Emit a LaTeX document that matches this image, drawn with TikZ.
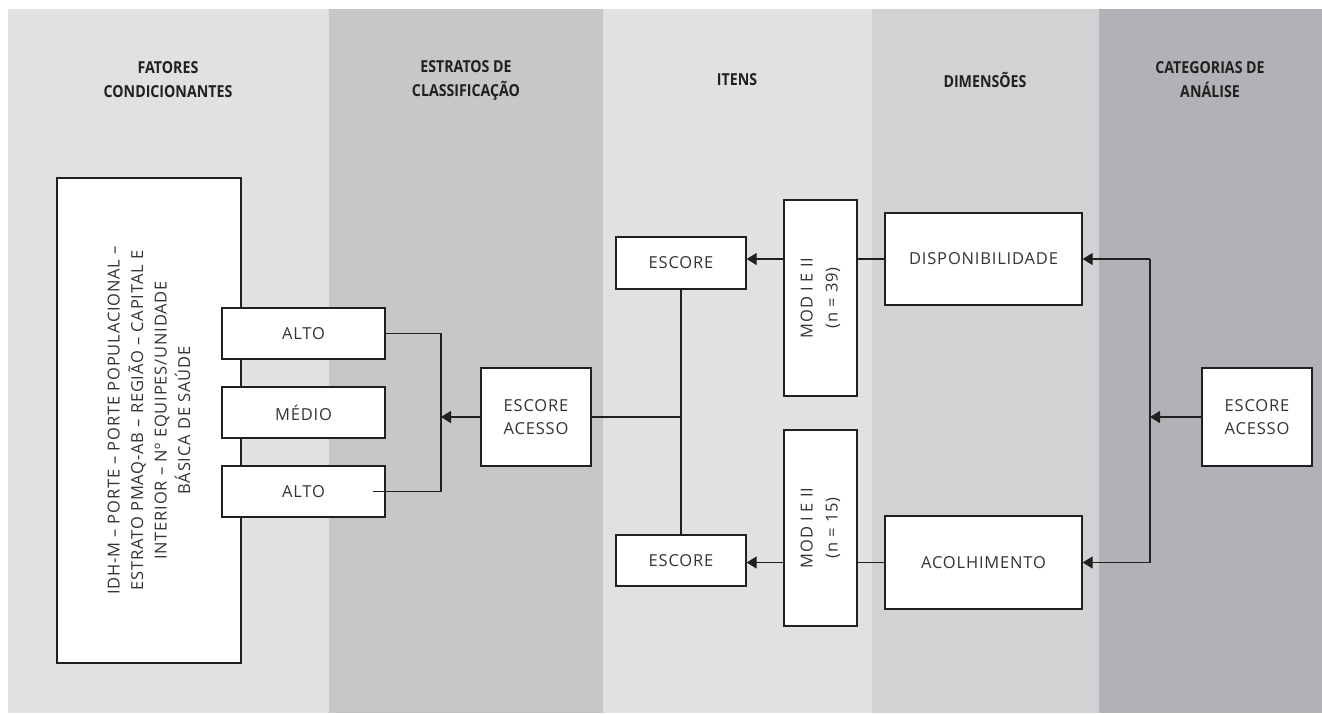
\documentclass[tikz,border=0pt]{standalone}
\usepackage{fontspec}
\setmainfont{Open Sans}[LetterSpace=5]
\newfontfamily\headfont{Open Sans}[FakeStretch=0.86]
\usetikzlibrary{arrows.meta}

\definecolor{bandA}{HTML}{E0E1E3}
\definecolor{bandB}{HTML}{C6C7C9}
\definecolor{bandD}{HTML}{D1D2D4}
\definecolor{bandE}{HTML}{B1B2B5}
\definecolor{ink}{HTML}{231F20}
\definecolor{txt}{HTML}{333335}

\begin{document}
\begin{tikzpicture}[x=1pt,y=-1pt,
    box/.style={draw=ink, fill=white, line width=1.3pt, text=txt, inner sep=0pt,
      align=center, font=\fontsize{16.5}{23.5}\selectfont},
    head/.style={text=ink, align=center, font=\headfont\bfseries\fontsize{16.5}{24}\selectfont},
    link/.style={draw=ink, line width=1.2pt},
    arr/.style={link, -{Triangle[length=10pt,width=12pt]}}]
        \useasboundingbox (0,0) rectangle (1322,713);
        % columns
        \fill[bandA] (8,9) rectangle (329,713);
        \fill[bandB] (329,9) rectangle (603,713);
        \fill[bandA] (603,9) rectangle (872,713);
        \fill[bandD] (872,9) rectangle (1099,713);
        \fill[bandE] (1099,9) rectangle (1322,713);
        \node[head] (hfat) at (168,80) {FATORES\\CONDICIONANTES};
        \node[head] (hest) at (466,80) {ESTRATOS DE\\CLASSIFICAÇÃO};
        \node[head] (hite) at (737,80) {ITENS};
        \node[head] (hdim) at (985,80) {DIMENSÕES};
        \node[head] (hcat) at (1210,80) {CATEGORIAS DE\\ANÁLISE};
        % boxes
        \node[box, rotate=90, minimum width=485, minimum height=184] (fatores) at (149,420.5)
            {IDH-M – PORTE – PORTE POPULACIONAL –\\ESTRATO PMAQ-AB – REGIÃO – CAPITAL E\\INTERIOR – Nº EQUIPES/UNIDADE\\BÁSICA DE SAÚDE};
        \node[box, minimum width=163, minimum height=51] (alto) at (303.5,333.5) {ALTO};
        \node[box, minimum width=163, minimum height=51] (medio) at (303.5,412.5) {MÉDIO};
        \node[box, minimum width=163, minimum height=51] (altob) at (303.5,491.5) {ALTO};
        \node[box, minimum width=110, minimum height=98] (acesso) at (536,417) {ESCORE\\ACESSO};
        \node[box, minimum width=130, minimum height=52] (escore) at (681,263) {ESCORE};
        \node[box, minimum width=130, minimum height=51] (escoreb) at (681,560.5) {ESCORE};
        \node[box, rotate=90, minimum width=196, minimum height=73, font=\fontsize{16.5}{25}\selectfont] (mod) at (820.5,298) {MOD I E II\\(n = 39)};
        \node[box, rotate=90, minimum width=196, minimum height=73, font=\fontsize{16.5}{25}\selectfont] (modb) at (820.5,528) {MOD I E II\\(n = 15)};
        \node[box, minimum width=197, minimum height=92] (disp) at (983.5,259) {DISPONIBILIDADE};
        \node[box, minimum width=197, minimum height=93] (acolh) at (983.5,562.5) {ACOLHIMENTO};
        \node[box, minimum width=110, minimum height=98] (acessob) at (1257,417) {ESCORE\\ACESSO};
        % connectors
        \coordinate (barl) at (441,0);
        \coordinate (barr) at (1150,0);
        \draw[link] (alto.east) -- (alto.east -| barl) -- (altob.east -| barl) -- ([xshift=-13pt]altob.east);
        \draw[arr] (acesso.west) -- (acesso.west -| barl);
        \draw[link] (acesso.east) -- (acesso.east -| escore.south);
        \draw[link] (escore.south) -- (escoreb.north);
        \draw[link] (disp.west) -- (disp.west -| mod.south);
        \draw[arr] (disp.west -| mod.north) -- (disp.west -| escore.east);
        \draw[link] (acolh.west) -- (acolh.west -| modb.south);
        \draw[arr] (acolh.west -| modb.north) -- (acolh.west -| escoreb.east);
        \draw[link] (disp.east -| barr) -- (acolh.east -| barr);
        \draw[arr] (disp.east -| barr) -- (disp.east);
        \draw[arr] (acolh.east -| barr) -- (acolh.east);
        \draw[arr] (acessob.west) -- (acessob.west -| barr);
\end{tikzpicture}
\end{document}
